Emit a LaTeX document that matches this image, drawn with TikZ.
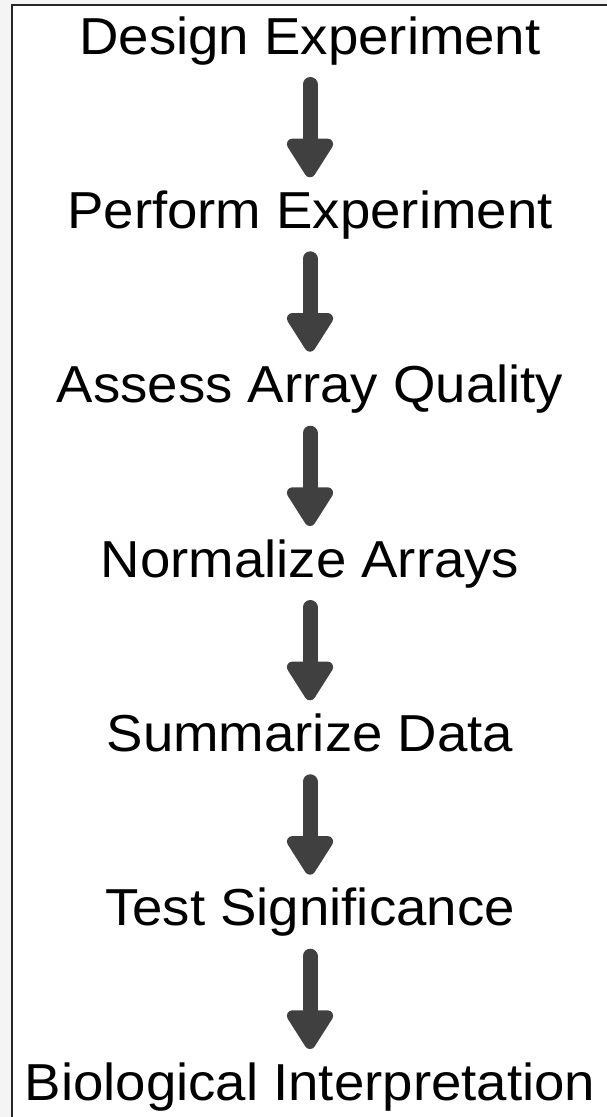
\documentclass[tikz,border=0pt]{standalone}
\usepackage{fontspec}
\setmainfont{Liberation Sans}[FakeStretch=1.05]
\usetikzlibrary{arrows.meta}
\definecolor{arrowgray}{HTML}{404040}
\definecolor{outergray}{HTML}{F4F4F4}
\tikzset{steplabel/.style={anchor=base, inner sep=0pt, font=\fontsize{52}{60}\selectfont}}
\tikzset{flow/.style={draw=arrowgray, line width=15pt, line cap=round,
    -{Triangle[width=52pt,length=44pt,round]}}}

\begin{document}
\begin{tikzpicture}[x=1pt,y=-1pt]
  \useasboundingbox (0,0) rectangle (607,1117);
  \fill[outergray] (0,0) rectangle (607,1117);
  \fill[white] (12,5) rectangle (607,1117);
  \draw[line width=2.5pt, draw=black!85] (12,1117) -- (12,5) -- (607,5);
  \foreach \y/\name/\lab in {
    54/Design Experiment/design,
    228.3/Perform Experiment/perform,
    402.7/Assess Array Quality/assess,
    577/Normalize Arrays/normalize,
    751.3/Summarize Data/summarize,
    925.7/Test Significance/test,
    1100/Biological Interpretation/interpret%
  } {
    \node[steplabel] (\lab) at (310,\y) {\name};
  }
  \foreach \u/\v in {
    design/perform,
    perform/assess,
    assess/normalize,
    normalize/summarize,
    summarize/test,
    test/interpret%
  }{
    \draw[flow] ([yshift=-30.5pt]\u.base) -- ([yshift=51pt]\v.base);
  }
\end{tikzpicture}
\end{document}
